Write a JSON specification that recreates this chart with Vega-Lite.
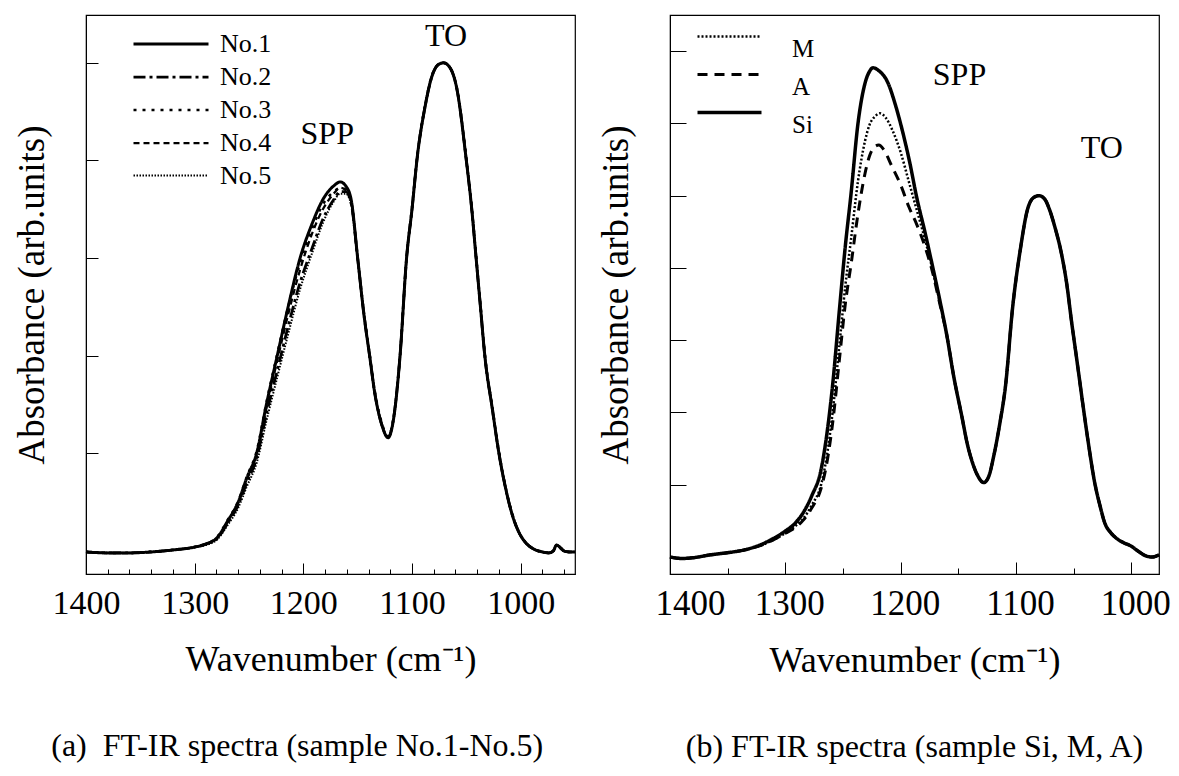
{
  "$schema": "https://vega.github.io/schema/vega-lite/v6.json",
  "background": "white",
  "padding": {"left": 12, "top": 14, "right": 0, "bottom": 0},
  "spacing": 14,
  "resolve": {"scale": {"strokeDash": "independent", "strokeWidth": "independent"}, "legend": {"strokeDash": "independent", "strokeWidth": "independent"}},
  "config": {
    "font": "Liberation Serif Regular",
    "view": {"stroke": "black", "strokeWidth": 1.2},
    "axis": {"domainColor": "black", "tickColor": "black", "labelColor": "black", "titleColor": "black", "grid": false, "labelFont": "Liberation Serif Regular", "titleFont": "Liberation Serif Regular", "titleFontWeight": "normal", "labelFontWeight": "normal", "labelOverlap": false, "labelFlush": false},
    "legend": {"labelColor": "black", "labelFont": "Liberation Serif Regular"},
    "title": {"font": "Liberation Serif Regular", "fontWeight": "normal", "color": "black"},
    "text": {"font": "Liberation Serif Regular"}
  },
  "datasets": {
    "a": [
      {"s":"No.1","wn":1400,"v":-0.01},{"s":"No.1","wn":1380,"v":-0.02},{"s":"No.1","wn":1360,"v":-0.02},{"s":"No.1","wn":1340,"v":-0.01},{"s":"No.1","wn":1320,"v":0.01},{"s":"No.1","wn":1300,"v":0.04},{"s":"No.1","wn":1290,"v":0.07},{"s":"No.1","wn":1279,"v":0.14},{"s":"No.1","wn":1270,"v":0.3},{"s":"No.1","wn":1260,"v":0.5},{"s":"No.1","wn":1252,"v":0.75},{"s":"No.1","wn":1243,"v":1.0},{"s":"No.1","wn":1234,"v":1.5},{"s":"No.1","wn":1224,"v":2.0},{"s":"No.1","wn":1214,"v":2.5},{"s":"No.1","wn":1203,"v":3.0},{"s":"No.1","wn":1192,"v":3.35},{"s":"No.1","wn":1182,"v":3.6},{"s":"No.1","wn":1172,"v":3.74},{"s":"No.1","wn":1166,"v":3.78},{"s":"No.1","wn":1161,"v":3.74},{"s":"No.1","wn":1156,"v":3.6},{"s":"No.1","wn":1150,"v":3.0},{"s":"No.1","wn":1144,"v":2.4},{"s":"No.1","wn":1139,"v":2.0},{"s":"No.1","wn":1134,"v":1.6},{"s":"No.1","wn":1128,"v":1.3},{"s":"No.1","wn":1122,"v":1.16},{"s":"No.1","wn":1117,"v":1.35},{"s":"No.1","wn":1111,"v":2.0},{"s":"No.1","wn":1105,"v":3.0},{"s":"No.1","wn":1100,"v":3.5},{"s":"No.1","wn":1095,"v":4.05},{"s":"No.1","wn":1088,"v":4.55},{"s":"No.1","wn":1082,"v":4.85},{"s":"No.1","wn":1076,"v":4.98},{"s":"No.1","wn":1071,"v":5.0},{"s":"No.1","wn":1065,"v":4.95},{"s":"No.1","wn":1059,"v":4.75},{"s":"No.1","wn":1050,"v":4.0},{"s":"No.1","wn":1045,"v":3.5},{"s":"No.1","wn":1041,"v":3.0},{"s":"No.1","wn":1037,"v":2.5},{"s":"No.1","wn":1033,"v":2.0},{"s":"No.1","wn":1026,"v":1.45},{"s":"No.1","wn":1020,"v":1.0},{"s":"No.1","wn":1014,"v":0.65},{"s":"No.1","wn":1008,"v":0.38},{"s":"No.1","wn":1002,"v":0.2},{"s":"No.1","wn":995,"v":0.08},{"s":"No.1","wn":988,"v":0.02},{"s":"No.1","wn":980,"v":-0.01},{"s":"No.1","wn":974,"v":-0.02},{"s":"No.1","wn":970,"v":0.0},{"s":"No.1","wn":967,"v":0.06},{"s":"No.1","wn":964,"v":0.04},{"s":"No.1","wn":960,"v":0.0},{"s":"No.1","wn":955,"v":-0.01},{"s":"No.1","wn":950,"v":-0.01},

      {"s":"No.2","wn":1400,"v":-0.01},{"s":"No.2","wn":1380,"v":-0.02},{"s":"No.2","wn":1360,"v":-0.02},{"s":"No.2","wn":1340,"v":-0.01},{"s":"No.2","wn":1320,"v":0.01},{"s":"No.2","wn":1300,"v":0.04},{"s":"No.2","wn":1290,"v":0.07},{"s":"No.2","wn":1279,"v":0.13},{"s":"No.2","wn":1270,"v":0.28},{"s":"No.2","wn":1260,"v":0.47},{"s":"No.2","wn":1252,"v":0.7},{"s":"No.2","wn":1243,"v":0.95},{"s":"No.2","wn":1234,"v":1.4},{"s":"No.2","wn":1224,"v":1.85},{"s":"No.2","wn":1214,"v":2.3},{"s":"No.2","wn":1203,"v":2.75},{"s":"No.2","wn":1192,"v":3.1},{"s":"No.2","wn":1182,"v":3.4},{"s":"No.2","wn":1172,"v":3.6},{"s":"No.2","wn":1166,"v":3.68},{"s":"No.2","wn":1161,"v":3.68},{"s":"No.2","wn":1156,"v":3.56},{"s":"No.2","wn":1150,"v":3.0},{"s":"No.2","wn":1144,"v":2.4},{"s":"No.2","wn":1139,"v":2.0},{"s":"No.2","wn":1134,"v":1.6},{"s":"No.2","wn":1128,"v":1.3},{"s":"No.2","wn":1122,"v":1.17},{"s":"No.2","wn":1117,"v":1.36},{"s":"No.2","wn":1111,"v":2.0},{"s":"No.2","wn":1105,"v":3.0},{"s":"No.2","wn":1100,"v":3.5},{"s":"No.2","wn":1095,"v":4.05},{"s":"No.2","wn":1088,"v":4.55},{"s":"No.2","wn":1082,"v":4.85},{"s":"No.2","wn":1076,"v":4.98},{"s":"No.2","wn":1071,"v":5.0},{"s":"No.2","wn":1065,"v":4.95},{"s":"No.2","wn":1059,"v":4.75},{"s":"No.2","wn":1050,"v":4.0},{"s":"No.2","wn":1045,"v":3.5},{"s":"No.2","wn":1041,"v":3.0},{"s":"No.2","wn":1037,"v":2.5},{"s":"No.2","wn":1033,"v":2.0},{"s":"No.2","wn":1026,"v":1.45},{"s":"No.2","wn":1020,"v":1.0},{"s":"No.2","wn":1014,"v":0.65},{"s":"No.2","wn":1008,"v":0.38},{"s":"No.2","wn":1002,"v":0.2},{"s":"No.2","wn":995,"v":0.08},{"s":"No.2","wn":988,"v":0.02},{"s":"No.2","wn":980,"v":-0.01},{"s":"No.2","wn":974,"v":-0.02},{"s":"No.2","wn":970,"v":0.0},{"s":"No.2","wn":967,"v":0.06},{"s":"No.2","wn":964,"v":0.04},{"s":"No.2","wn":960,"v":0.0},{"s":"No.2","wn":955,"v":-0.01},{"s":"No.2","wn":950,"v":-0.01},

      {"s":"No.3","wn":1400,"v":-0.01},{"s":"No.3","wn":1380,"v":-0.02},{"s":"No.3","wn":1360,"v":-0.02},{"s":"No.3","wn":1340,"v":-0.01},{"s":"No.3","wn":1320,"v":0.01},{"s":"No.3","wn":1300,"v":0.04},{"s":"No.3","wn":1290,"v":0.07},{"s":"No.3","wn":1279,"v":0.15},{"s":"No.3","wn":1270,"v":0.31},{"s":"No.3","wn":1260,"v":0.51},{"s":"No.3","wn":1252,"v":0.76},{"s":"No.3","wn":1243,"v":1.02},{"s":"No.3","wn":1234,"v":1.52},{"s":"No.3","wn":1224,"v":2.02},{"s":"No.3","wn":1214,"v":2.5},{"s":"No.3","wn":1203,"v":2.95},{"s":"No.3","wn":1192,"v":3.3},{"s":"No.3","wn":1182,"v":3.55},{"s":"No.3","wn":1172,"v":3.68},{"s":"No.3","wn":1166,"v":3.72},{"s":"No.3","wn":1161,"v":3.7},{"s":"No.3","wn":1156,"v":3.58},{"s":"No.3","wn":1150,"v":3.0},{"s":"No.3","wn":1144,"v":2.42},{"s":"No.3","wn":1139,"v":2.02},{"s":"No.3","wn":1134,"v":1.62},{"s":"No.3","wn":1128,"v":1.32},{"s":"No.3","wn":1122,"v":1.17},{"s":"No.3","wn":1117,"v":1.36},{"s":"No.3","wn":1111,"v":2.0},{"s":"No.3","wn":1105,"v":3.0},{"s":"No.3","wn":1100,"v":3.52},{"s":"No.3","wn":1095,"v":4.06},{"s":"No.3","wn":1088,"v":4.56},{"s":"No.3","wn":1082,"v":4.86},{"s":"No.3","wn":1076,"v":4.98},{"s":"No.3","wn":1071,"v":5.0},{"s":"No.3","wn":1065,"v":4.95},{"s":"No.3","wn":1059,"v":4.76},{"s":"No.3","wn":1050,"v":4.02},{"s":"No.3","wn":1045,"v":3.52},{"s":"No.3","wn":1041,"v":3.02},{"s":"No.3","wn":1037,"v":2.52},{"s":"No.3","wn":1033,"v":2.02},{"s":"No.3","wn":1026,"v":1.47},{"s":"No.3","wn":1020,"v":1.02},{"s":"No.3","wn":1014,"v":0.66},{"s":"No.3","wn":1008,"v":0.39},{"s":"No.3","wn":1002,"v":0.2},{"s":"No.3","wn":995,"v":0.08},{"s":"No.3","wn":988,"v":0.02},{"s":"No.3","wn":980,"v":-0.01},{"s":"No.3","wn":974,"v":-0.02},{"s":"No.3","wn":970,"v":0.0},{"s":"No.3","wn":967,"v":0.05},{"s":"No.3","wn":964,"v":0.03},{"s":"No.3","wn":960,"v":0.0},{"s":"No.3","wn":955,"v":-0.01},{"s":"No.3","wn":950,"v":-0.01},

      {"s":"No.4","wn":1400,"v":-0.01},{"s":"No.4","wn":1380,"v":-0.02},{"s":"No.4","wn":1360,"v":-0.02},{"s":"No.4","wn":1340,"v":-0.01},{"s":"No.4","wn":1320,"v":0.01},{"s":"No.4","wn":1300,"v":0.04},{"s":"No.4","wn":1290,"v":0.07},{"s":"No.4","wn":1279,"v":0.14},{"s":"No.4","wn":1270,"v":0.29},{"s":"No.4","wn":1260,"v":0.49},{"s":"No.4","wn":1252,"v":0.73},{"s":"No.4","wn":1243,"v":0.98},{"s":"No.4","wn":1234,"v":1.46},{"s":"No.4","wn":1224,"v":1.95},{"s":"No.4","wn":1214,"v":2.42},{"s":"No.4","wn":1203,"v":2.88},{"s":"No.4","wn":1192,"v":3.25},{"s":"No.4","wn":1182,"v":3.5},{"s":"No.4","wn":1172,"v":3.66},{"s":"No.4","wn":1166,"v":3.72},{"s":"No.4","wn":1161,"v":3.7},{"s":"No.4","wn":1156,"v":3.58},{"s":"No.4","wn":1150,"v":3.0},{"s":"No.4","wn":1144,"v":2.4},{"s":"No.4","wn":1139,"v":2.0},{"s":"No.4","wn":1134,"v":1.6},{"s":"No.4","wn":1128,"v":1.3},{"s":"No.4","wn":1122,"v":1.16},{"s":"No.4","wn":1117,"v":1.35},{"s":"No.4","wn":1111,"v":2.0},{"s":"No.4","wn":1105,"v":3.0},{"s":"No.4","wn":1100,"v":3.5},{"s":"No.4","wn":1095,"v":4.05},{"s":"No.4","wn":1088,"v":4.55},{"s":"No.4","wn":1082,"v":4.85},{"s":"No.4","wn":1076,"v":4.98},{"s":"No.4","wn":1071,"v":5.0},{"s":"No.4","wn":1065,"v":4.95},{"s":"No.4","wn":1059,"v":4.75},{"s":"No.4","wn":1050,"v":4.0},{"s":"No.4","wn":1045,"v":3.5},{"s":"No.4","wn":1041,"v":3.0},{"s":"No.4","wn":1037,"v":2.5},{"s":"No.4","wn":1033,"v":2.0},{"s":"No.4","wn":1026,"v":1.45},{"s":"No.4","wn":1020,"v":1.0},{"s":"No.4","wn":1014,"v":0.65},{"s":"No.4","wn":1008,"v":0.38},{"s":"No.4","wn":1002,"v":0.2},{"s":"No.4","wn":995,"v":0.08},{"s":"No.4","wn":988,"v":0.02},{"s":"No.4","wn":980,"v":-0.01},{"s":"No.4","wn":974,"v":-0.02},{"s":"No.4","wn":970,"v":0.0},{"s":"No.4","wn":967,"v":0.06},{"s":"No.4","wn":964,"v":0.04},{"s":"No.4","wn":960,"v":0.0},{"s":"No.4","wn":955,"v":-0.01},{"s":"No.4","wn":950,"v":-0.01},

      {"s":"No.5","wn":1400,"v":-0.01},{"s":"No.5","wn":1380,"v":-0.02},{"s":"No.5","wn":1360,"v":-0.02},{"s":"No.5","wn":1340,"v":-0.01},{"s":"No.5","wn":1320,"v":0.01},{"s":"No.5","wn":1300,"v":0.04},{"s":"No.5","wn":1290,"v":0.06},{"s":"No.5","wn":1279,"v":0.12},{"s":"No.5","wn":1270,"v":0.26},{"s":"No.5","wn":1260,"v":0.44},{"s":"No.5","wn":1252,"v":0.66},{"s":"No.5","wn":1243,"v":0.9},{"s":"No.5","wn":1234,"v":1.33},{"s":"No.5","wn":1224,"v":1.78},{"s":"No.5","wn":1214,"v":2.22},{"s":"No.5","wn":1203,"v":2.68},{"s":"No.5","wn":1192,"v":3.05},{"s":"No.5","wn":1182,"v":3.36},{"s":"No.5","wn":1172,"v":3.58},{"s":"No.5","wn":1166,"v":3.66},{"s":"No.5","wn":1161,"v":3.66},{"s":"No.5","wn":1156,"v":3.55},{"s":"No.5","wn":1150,"v":3.0},{"s":"No.5","wn":1144,"v":2.4},{"s":"No.5","wn":1139,"v":2.0},{"s":"No.5","wn":1134,"v":1.6},{"s":"No.5","wn":1128,"v":1.3},{"s":"No.5","wn":1122,"v":1.16},{"s":"No.5","wn":1117,"v":1.35},{"s":"No.5","wn":1111,"v":2.0},{"s":"No.5","wn":1105,"v":3.0},{"s":"No.5","wn":1100,"v":3.5},{"s":"No.5","wn":1095,"v":4.05},{"s":"No.5","wn":1088,"v":4.55},{"s":"No.5","wn":1082,"v":4.85},{"s":"No.5","wn":1076,"v":4.98},{"s":"No.5","wn":1071,"v":5.0},{"s":"No.5","wn":1065,"v":4.95},{"s":"No.5","wn":1059,"v":4.75},{"s":"No.5","wn":1050,"v":4.0},{"s":"No.5","wn":1045,"v":3.5},{"s":"No.5","wn":1041,"v":3.0},{"s":"No.5","wn":1037,"v":2.5},{"s":"No.5","wn":1033,"v":2.0},{"s":"No.5","wn":1026,"v":1.45},{"s":"No.5","wn":1020,"v":1.0},{"s":"No.5","wn":1014,"v":0.65},{"s":"No.5","wn":1008,"v":0.38},{"s":"No.5","wn":1002,"v":0.2},{"s":"No.5","wn":995,"v":0.08},{"s":"No.5","wn":988,"v":0.02},{"s":"No.5","wn":980,"v":-0.01},{"s":"No.5","wn":974,"v":-0.02},{"s":"No.5","wn":970,"v":0.0},{"s":"No.5","wn":967,"v":0.06},{"s":"No.5","wn":964,"v":0.04},{"s":"No.5","wn":960,"v":0.0},{"s":"No.5","wn":955,"v":-0.01},{"s":"No.5","wn":950,"v":-0.01}
    ],
    "b": [
      {"s":"Si","wn":1400,"v":0.0},{"s":"Si","wn":1390,"v":-0.02},{"s":"Si","wn":1380,"v":-0.01},{"s":"Si","wn":1365,"v":0.03},{"s":"Si","wn":1350,"v":0.06},{"s":"Si","wn":1335,"v":0.1},{"s":"Si","wn":1323,"v":0.16},{"s":"Si","wn":1310,"v":0.26},{"s":"Si","wn":1300,"v":0.36},{"s":"Si","wn":1292,"v":0.46},{"s":"Si","wn":1285,"v":0.6},{"s":"Si","wn":1277,"v":0.85},{"s":"Si","wn":1269,"v":1.21},{"s":"Si","wn":1264,"v":1.7},{"s":"Si","wn":1259,"v":2.38},{"s":"Si","wn":1253,"v":3.44},{"s":"Si","wn":1248,"v":4.3},{"s":"Si","wn":1243,"v":5.03},{"s":"Si","wn":1237,"v":6.0},{"s":"Si","wn":1231,"v":6.55},{"s":"Si","wn":1227,"v":6.72},{"s":"Si","wn":1224,"v":6.77},{"s":"Si","wn":1219,"v":6.73},{"s":"Si","wn":1211,"v":6.56},{"s":"Si","wn":1205,"v":6.28},{"s":"Si","wn":1199,"v":5.93},{"s":"Si","wn":1192,"v":5.45},{"s":"Si","wn":1186,"v":4.97},{"s":"Si","wn":1179,"v":4.5},{"s":"Si","wn":1173,"v":4.07},{"s":"Si","wn":1166,"v":3.55},{"s":"Si","wn":1160,"v":3.07},{"s":"Si","wn":1154,"v":2.5},{"s":"Si","wn":1147,"v":1.95},{"s":"Si","wn":1142,"v":1.55},{"s":"Si","wn":1138,"v":1.32},{"s":"Si","wn":1133,"v":1.12},{"s":"Si","wn":1128,"v":1.03},{"s":"Si","wn":1124,"v":1.1},{"s":"Si","wn":1119,"v":1.42},{"s":"Si","wn":1114,"v":1.85},{"s":"Si","wn":1109,"v":2.38},{"s":"Si","wn":1103,"v":3.44},{"s":"Si","wn":1096,"v":4.28},{"s":"Si","wn":1090,"v":4.81},{"s":"Si","wn":1085,"v":4.97},{"s":"Si","wn":1080,"v":5.0},{"s":"Si","wn":1075,"v":4.95},{"s":"Si","wn":1071,"v":4.81},{"s":"Si","wn":1066,"v":4.55},{"s":"Si","wn":1061,"v":4.23},{"s":"Si","wn":1056,"v":3.78},{"s":"Si","wn":1052,"v":3.28},{"s":"Si","wn":1047,"v":2.7},{"s":"Si","wn":1042,"v":2.11},{"s":"Si","wn":1037,"v":1.55},{"s":"Si","wn":1032,"v":1.05},{"s":"Si","wn":1027,"v":0.7},{"s":"Si","wn":1023,"v":0.47},{"s":"Si","wn":1018,"v":0.34},{"s":"Si","wn":1013,"v":0.26},{"s":"Si","wn":1007,"v":0.2},{"s":"Si","wn":1000,"v":0.15},{"s":"Si","wn":994,"v":0.08},{"s":"Si","wn":988,"v":0.02},{"s":"Si","wn":982,"v":0.0},{"s":"Si","wn":976,"v":0.03},

      {"s":"M","wn":1400,"v":0.0},{"s":"M","wn":1390,"v":-0.02},{"s":"M","wn":1380,"v":-0.01},{"s":"M","wn":1365,"v":0.03},{"s":"M","wn":1350,"v":0.06},{"s":"M","wn":1335,"v":0.1},{"s":"M","wn":1323,"v":0.15},{"s":"M","wn":1310,"v":0.24},{"s":"M","wn":1300,"v":0.33},{"s":"M","wn":1292,"v":0.42},{"s":"M","wn":1285,"v":0.52},{"s":"M","wn":1277,"v":0.72},{"s":"M","wn":1269,"v":1.0},{"s":"M","wn":1264,"v":1.4},{"s":"M","wn":1259,"v":2.0},{"s":"M","wn":1253,"v":2.95},{"s":"M","wn":1248,"v":3.75},{"s":"M","wn":1243,"v":4.4},{"s":"M","wn":1237,"v":5.2},{"s":"M","wn":1231,"v":5.75},{"s":"M","wn":1227,"v":5.98},{"s":"M","wn":1222,"v":6.1},{"s":"M","wn":1218,"v":6.14},{"s":"M","wn":1213,"v":6.08},{"s":"M","wn":1207,"v":5.9},{"s":"M","wn":1200,"v":5.6},{"s":"M","wn":1193,"v":5.2},{"s":"M","wn":1186,"v":4.8},{"s":"M","wn":1179,"v":4.4},{"s":"M","wn":1173,"v":4.02},{"s":"M","wn":1166,"v":3.52},{"s":"M","wn":1160,"v":3.07},{"s":"M","wn":1154,"v":2.5},{"s":"M","wn":1147,"v":1.95},{"s":"M","wn":1142,"v":1.55},{"s":"M","wn":1138,"v":1.32},{"s":"M","wn":1133,"v":1.12},{"s":"M","wn":1128,"v":1.03},{"s":"M","wn":1124,"v":1.1},{"s":"M","wn":1119,"v":1.42},{"s":"M","wn":1114,"v":1.85},{"s":"M","wn":1109,"v":2.38},{"s":"M","wn":1103,"v":3.44},{"s":"M","wn":1096,"v":4.28},{"s":"M","wn":1090,"v":4.81},{"s":"M","wn":1085,"v":4.97},{"s":"M","wn":1080,"v":5.0},{"s":"M","wn":1075,"v":4.95},{"s":"M","wn":1071,"v":4.81},{"s":"M","wn":1066,"v":4.55},{"s":"M","wn":1061,"v":4.23},{"s":"M","wn":1056,"v":3.78},{"s":"M","wn":1052,"v":3.28},{"s":"M","wn":1047,"v":2.7},{"s":"M","wn":1042,"v":2.11},{"s":"M","wn":1037,"v":1.55},{"s":"M","wn":1032,"v":1.05},{"s":"M","wn":1027,"v":0.7},{"s":"M","wn":1023,"v":0.47},{"s":"M","wn":1018,"v":0.34},{"s":"M","wn":1013,"v":0.26},{"s":"M","wn":1007,"v":0.2},{"s":"M","wn":1000,"v":0.15},{"s":"M","wn":994,"v":0.08},{"s":"M","wn":988,"v":0.02},{"s":"M","wn":982,"v":0.0},{"s":"M","wn":976,"v":0.03},

      {"s":"A","wn":1400,"v":0.0},{"s":"A","wn":1390,"v":-0.02},{"s":"A","wn":1380,"v":-0.01},{"s":"A","wn":1365,"v":0.03},{"s":"A","wn":1350,"v":0.06},{"s":"A","wn":1335,"v":0.1},{"s":"A","wn":1323,"v":0.15},{"s":"A","wn":1310,"v":0.24},{"s":"A","wn":1300,"v":0.33},{"s":"A","wn":1292,"v":0.4},{"s":"A","wn":1285,"v":0.5},{"s":"A","wn":1277,"v":0.68},{"s":"A","wn":1269,"v":0.95},{"s":"A","wn":1264,"v":1.3},{"s":"A","wn":1259,"v":1.85},{"s":"A","wn":1253,"v":2.75},{"s":"A","wn":1248,"v":3.5},{"s":"A","wn":1243,"v":4.05},{"s":"A","wn":1237,"v":4.75},{"s":"A","wn":1231,"v":5.3},{"s":"A","wn":1227,"v":5.55},{"s":"A","wn":1223,"v":5.67},{"s":"A","wn":1219,"v":5.7},{"s":"A","wn":1214,"v":5.62},{"s":"A","wn":1208,"v":5.42},{"s":"A","wn":1200,"v":5.15},{"s":"A","wn":1193,"v":4.85},{"s":"A","wn":1186,"v":4.6},{"s":"A","wn":1179,"v":4.3},{"s":"A","wn":1173,"v":3.98},{"s":"A","wn":1166,"v":3.5},{"s":"A","wn":1160,"v":3.07},{"s":"A","wn":1154,"v":2.5},{"s":"A","wn":1147,"v":1.95},{"s":"A","wn":1142,"v":1.55},{"s":"A","wn":1138,"v":1.32},{"s":"A","wn":1133,"v":1.12},{"s":"A","wn":1128,"v":1.03},{"s":"A","wn":1124,"v":1.1},{"s":"A","wn":1119,"v":1.42},{"s":"A","wn":1114,"v":1.85},{"s":"A","wn":1109,"v":2.38},{"s":"A","wn":1103,"v":3.44},{"s":"A","wn":1096,"v":4.28},{"s":"A","wn":1090,"v":4.81},{"s":"A","wn":1085,"v":4.97},{"s":"A","wn":1080,"v":5.0},{"s":"A","wn":1075,"v":4.95},{"s":"A","wn":1071,"v":4.81},{"s":"A","wn":1066,"v":4.55},{"s":"A","wn":1061,"v":4.23},{"s":"A","wn":1056,"v":3.78},{"s":"A","wn":1052,"v":3.28},{"s":"A","wn":1047,"v":2.7},{"s":"A","wn":1042,"v":2.11},{"s":"A","wn":1037,"v":1.55},{"s":"A","wn":1032,"v":1.05},{"s":"A","wn":1027,"v":0.7},{"s":"A","wn":1023,"v":0.47},{"s":"A","wn":1018,"v":0.34},{"s":"A","wn":1013,"v":0.26},{"s":"A","wn":1007,"v":0.2},{"s":"A","wn":1000,"v":0.15},{"s":"A","wn":994,"v":0.08},{"s":"A","wn":988,"v":0.02},{"s":"A","wn":982,"v":0.0},{"s":"A","wn":976,"v":0.03}
    ],
    "ta": [{"wn":1068.6,"v":5.28,"t":"TO"},{"wn":1178,"v":4.27,"t":"SPP"}],
    "tb": [{"wn":1149,"v":6.67,"t":"SPP"},{"wn":1025.6,"v":5.66,"t":"TO"}]
  },
  "hconcat": [
    {
      "width": 489, "height": 559,
      "title": {"text": "(a)\u00a0\u00a0FT-IR spectra (sample No.1-No.5)", "orient": "bottom", "fontSize": 32, "offset": 54, "anchor": "middle", "frame": "bounds"},
      "resolve": {"axis": {"x": "independent"}},
      "layer": [
        {
          "data": {"name": "a"},
          "mark": {"type": "line", "interpolate": "monotone", "color": "black"},
          "encoding": {
            "x": {"field": "wn", "type": "quantitative", "scale": {"domain": [950, 1400], "reverse": true, "nice": false, "zero": false},
                  "axis": {"orient": "bottom", "values": [1000,1100,1200,1300,1400], "format": "d", "tickSize": -11,
                           "labelFontSize": 34, "labelPadding": 23, "title": "Wavenumber (cm⁻¹)", "titleFontSize": 36, "titlePadding": 22}},
            "y": {"field": "v", "type": "quantitative", "scale": {"domain": [-0.236, 5.49], "nice": false, "zero": false},
                  "axis": {"values": [0,1,2,3,4,5], "labels": false, "tickSize": -12, "title": "Absorbance (arb.units)", "titleFontSize": 37, "titlePadding": 34}},
            "strokeDash": {"field": "s", "type": "nominal",
                           "scale": {"domain": ["No.1","No.2","No.3","No.4","No.5"], "range": [[1,0],[12,4,3,4],[3,6],[6,4],[1.5,1.5]]},
                           "legend": {"orient": "none", "legendX": 71, "legendY": 15, "title": null, "symbolType": "M-3,0H3", "symbolSize": 625, "symbolStrokeColor": "black", "labelFontSize": 26, "labelOffset": 35, "rowPadding": 6, "padding": 0}},
            "strokeWidth": {"field": "s", "type": "nominal",
                           "scale": {"domain": ["No.1","No.2","No.3","No.4","No.5"], "range": [3, 2, 5, 3, 1.2]},
                           "legend": {"orient": "none", "legendX": 71, "legendY": 15, "title": null, "symbolType": "M-3,0H3", "symbolSize": 625, "symbolStrokeColor": "black", "labelFontSize": 26, "labelOffset": 35, "rowPadding": 6, "padding": 0}}
          }
        },
        {
          "data": {"name": "ta"},
          "mark": {"type": "text", "fontSize": 32, "color": "black"},
          "encoding": {
            "x": {"field": "wn", "type": "quantitative",
                  "axis": {"orient": "bottom", "values": [960,980,1020,1040,1060,1080,1120,1140,1160,1180,1220,1240,1260,1280,1320,1340,1360,1380], "labels": false, "tickSize": -5, "title": null, "domain": false}},
            "y": {"field": "v", "type": "quantitative",
                  "axis": {"values": [0,1,2,3,4,5], "labels": false, "tickSize": -12, "title": "Absorbance (arb.units)", "titleFontSize": 37, "titlePadding": 34}},
            "text": {"field": "t"}
          }
        }
      ]
    },
    {
      "width": 489, "height": 559,
      "title": {"text": "(b) FT-IR spectra (sample Si, M, A)", "orient": "bottom", "fontSize": 32, "offset": 54, "anchor": "middle"},
      "resolve": {"axis": {"x": "independent"}},
      "layer": [
        {
          "data": {"name": "b"},
          "mark": {"type": "line", "interpolate": "monotone", "color": "black"},
          "encoding": {
            "x": {"field": "wn", "type": "quantitative", "scale": {"domain": [976, 1400], "reverse": true, "nice": false, "zero": false},
                  "axis": {"orient": "bottom", "values": [1000,1100,1200,1300,1400], "format": "d", "tickSize": -12,
                           "labelOffset": {"condition": {"test": "datum.value == 1400", "value": 20}, "value": 4},
                           "labelFontSize": 35, "labelPadding": 24, "title": "Wavenumber (cm⁻¹)", "titleFontSize": 36, "titlePadding": 22}},
            "y": {"field": "v", "type": "quantitative", "scale": {"domain": [-0.235, 7.5], "nice": false, "zero": false},
                  "axis": {"values": [0,1,2,3,4,5,6,7], "labels": false, "tickSize": -16, "title": "Absorbance (arb.units)", "titleFontSize": 37, "titlePadding": 34}},
            "strokeDash": {"field": "s", "type": "nominal",
                           "scale": {"domain": ["M","A","Si"], "range": [[2,2],[10,7],[1,0]]},
                           "legend": {"orient": "none", "legendX": 47, "legendY": 9, "title": null, "symbolType": "M-3,0H3", "symbolSize": 455, "symbolStrokeColor": "black", "labelFontSize": 25, "labelOffset": 50, "labelBaseline": "top", "rowPadding": 0, "padding": 0}},
            "strokeWidth": {"field": "s", "type": "nominal",
                           "scale": {"domain": ["M","A","Si"], "range": [2.5, 3.5, 3]},
                           "legend": {"orient": "none", "legendX": 47, "legendY": 9, "title": null, "symbolType": "M-3,0H3", "symbolSize": 455, "symbolStrokeColor": "black", "labelFontSize": 25, "labelOffset": 50, "labelBaseline": "top", "rowPadding": 0, "padding": 0}}
          }
        },
        {
          "data": {"name": "tb"},
          "mark": {"type": "text", "fontSize": 32, "color": "black"},
          "encoding": {
            "x": {"field": "wn", "type": "quantitative",
                  "axis": {"orient": "bottom", "values": [1050,1150,1250,1350], "labels": false, "tickSize": -6, "title": null, "domain": false}},
            "y": {"field": "v", "type": "quantitative",
                  "axis": {"values": [0,1,2,3,4,5,6,7], "labels": false, "tickSize": -16, "title": "Absorbance (arb.units)", "titleFontSize": 37, "titlePadding": 34}},
            "text": {"field": "t"}
          }
        }
      ]
    }
  ]
}
